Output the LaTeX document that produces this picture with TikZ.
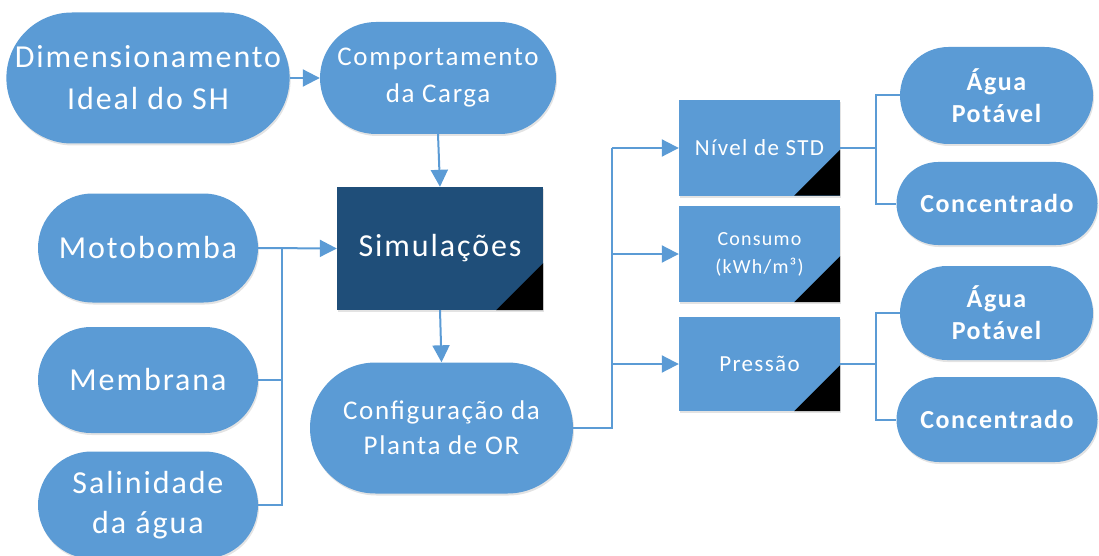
\documentclass[tikz,border=0pt]{standalone}
\usepackage{fontspec}
\setmainfont{Carlito}[LetterSpace=6]
\usetikzlibrary{arrows.meta,shapes.misc,shadows}
\definecolor{mblue}{HTML}{5B9BD5}
\definecolor{navy}{HTML}{1F4E79}
\definecolor{lineblue}{HTML}{5B9BD5}
\begin{document}
\begin{tikzpicture}[x=1pt,y=-1pt,
  fs/.style 2 args={font=\fontsize{#1}{#2}\selectfont},
  fsb/.style 2 args={font=\fontsize{#1}{#2}\selectfont\bfseries},
  soft/.style={drop shadow={opacity=0.22,shadow xshift=1pt,shadow yshift=-2pt}},
  pill/.style 2 args={rounded rectangle, fill=mblue, text=white, align=center,
    inner sep=0pt, minimum width=#1, minimum height=#2, soft},
  card/.style 2 args={rectangle, fill=mblue, text=white, align=center,
    inner sep=0pt, minimum width=#1, minimum height=#2, soft},
  ln/.style={draw=lineblue, line width=2pt},
  arr/.style={ln, -{Triangle[length=17pt,width=17pt]}},
  corner/.style={fill=black}
]
\useasboundingbox (0,0) rectangle (1099,556);

% inputs on the left
\node[pill={276pt}{131pt}, fs={32}{42}] (dim) at (148,78) {Dimensionamento\\Ideal do SH};
\node[pill={236pt}{112pt}, fs={27}{37}] (comp) at (438,78) {Comportamento\\da Carga};
\node[pill={220pt}{109pt}, fs={32}{40}] (moto) at (148,248) {Motobomba};
\node[pill={220pt}{106pt}, fs={32}{40}] (memb) at (148,380) {Membrana};
\node[pill={220pt}{107pt}, fs={32}{40}] (sal) at (148,505) {Salinidade\\da água};

% central process
\node[card={206pt}{123pt}, fill=navy, fs={32}{40}] (sim) at (440,248.5) {Simulações};
\fill[corner] (sim.south east) -- ([xshift=-47pt]sim.south east) -- ([yshift=47pt]sim.south east) -- cycle;
\node[pill={263pt}{131pt}, fs={27}{35}] (cfg) at (441.5,428) {Configuração da\\Planta de OR};

% results
\node[card={161pt}{95pt}, fs={23}{28}] (niv) at (759.5,148) {Nível de STD};
\node[card={161pt}{96pt}, fs={20}{28}] (cons) at (759.5,254) {Consumo\\(kWh/m³)};
\node[card={161pt}{94pt}, fs={23}{28}] (pres) at (759.5,364) {Pressão};
\foreach \n in {niv,cons,pres}
  \fill[corner] (\n.south east) -- ([xshift=-46pt]\n.south east) -- ([yshift=46pt]\n.south east) -- cycle;

% outputs on the right
\node[pill={193pt}{97pt}, fsb={26}{32}] (ag1) at (996.5,95.5) {Água\\Potável};
\node[pill={201pt}{83pt}, fsb={26}{32}] (co1) at (997,203.5) {Concentrado};
\node[pill={193pt}{94pt}, fsb={26}{32}] (ag2) at (996.5,313) {Água\\Potável};
\node[pill={201pt}{85pt}, fsb={26}{32}] (co2) at (997,419.5) {Concentrado};

% junction points
\coordinate (jl) at (282,248);
\coordinate (jm) at (612,148);
\coordinate (jr1) at (876,148);
\coordinate (jr2) at (876,364);

% connectors
\draw[arr] (dim.east) -- (comp.west);
\draw[arr] (comp.south) -- (sim.north);
\draw[arr] (moto.east) -- (sim.west);
\draw[ln] (memb.east) -- (memb.east -| jl);
\draw[ln] (sal.east) -| (jl);
\draw[arr] (sim.south) -- (cfg.north);

\draw[ln] (cfg.east) -| (jm);
\draw[arr] (jm) -- (niv.west);
\draw[arr] (jm |- cons.west) -- (cons.west);
\draw[arr] (jm |- pres.west) -- (pres.west);

\draw[ln] (niv.east) -- (jr1);
\draw[ln] (ag1.west) -| (jr1 |- co1.west) -- (co1.west);
\draw[ln] (pres.east) -- (jr2);
\draw[ln] (ag2.west) -| (jr2 |- co2.west) -- (co2.west);
\end{tikzpicture}
\end{document}
